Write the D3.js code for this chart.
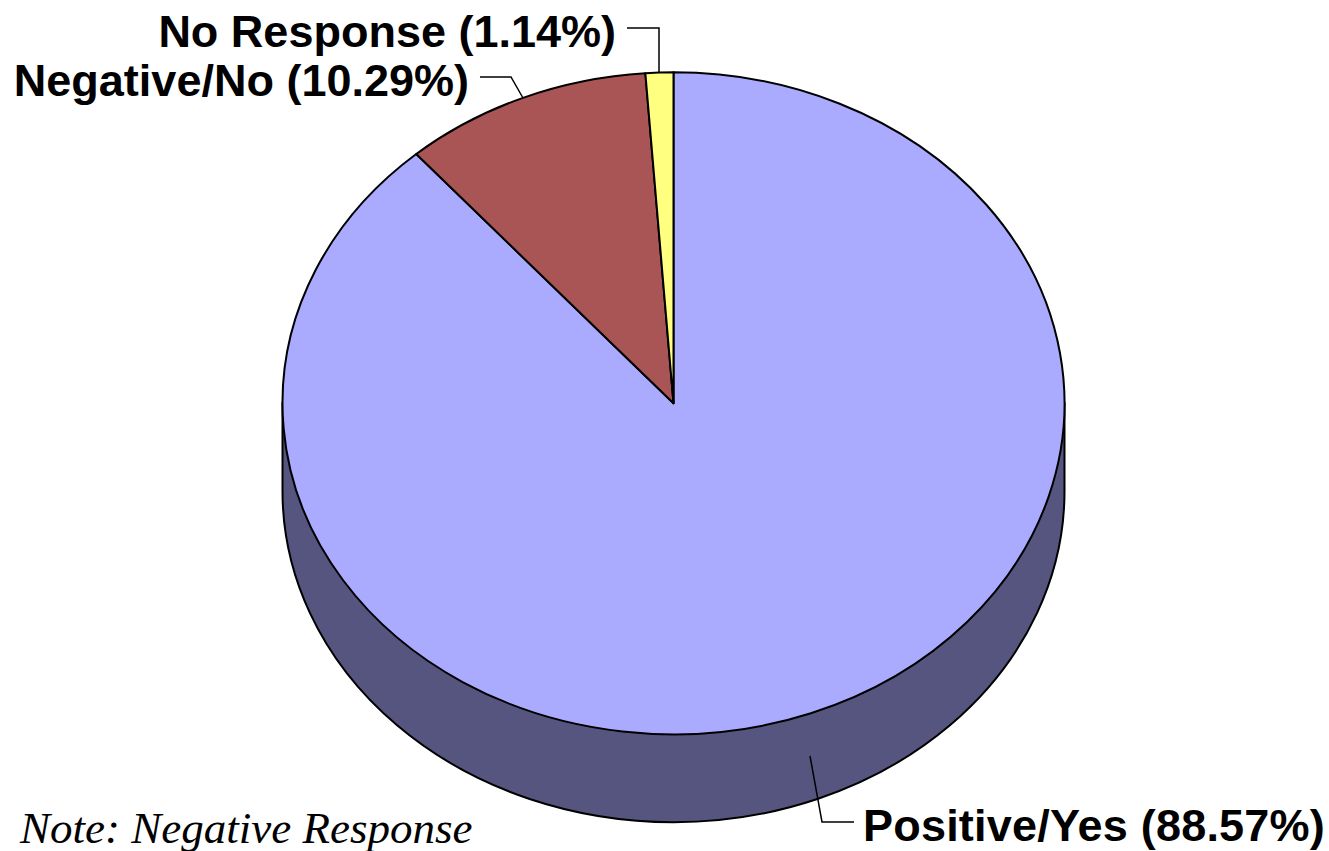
<!DOCTYPE html>
<html>
<head>
<meta charset="utf-8">
<script src="https://cdn.jsdelivr.net/npm/d3@7"></script>
<style>
  html, body { margin: 0; padding: 0; background: #fff; }
  svg { display: block; }
</style>
</head>
<body>
<div id="chart"></div>
<script>
// datos del grafico
var categories = ['Positive/Yes', 'Negative/No', 'No Response'];
var values = [88.57, 10.29, 1.14];
var colors = ['#aaaaff', '#aa5555', '#ffff80'];
var sideColor = '#55557f';
var note = 'Note: Negative Response';

var w = 1329, h = 851;
var cx = 673.5, cy = 403.3, rx = 391, ry = 331, depth = 88;

var svg = d3.select('#chart').append('svg')
  .attr('width', w)
  .attr('height', h)
  .attr('viewBox', [0, 0, w, h]);

// lateral del disco
svg.append('path')
  .attr('d', 'M' + (cx - rx) + ',' + cy + 'V' + (cy + depth) +
             'A' + rx + ',' + ry + ' 0 0 0 ' + (cx + rx) + ',' + (cy + depth) +
             'V' + cy + 'Z')
  .attr('fill', sideColor)
  .attr('stroke', '#000')
  .attr('stroke-width', 2);

// sectores: el arco se hace con radio 1 y se achata con scale
var pie = d3.pie().sort(null).value(function (d) { return d; });
var arc = d3.arc().innerRadius(0).outerRadius(1);

var slices = svg.append('g')
  .attr('transform', 'translate(' + cx + ',' + cy + ') scale(' + rx + ',' + ry + ')');

slices.selectAll('path')
  .data(pie(values))
  .enter()
  .append('path')
  .attr('d', arc)
  .attr('fill', function (d, i) { return colors[i]; })
  .attr('stroke', '#000')
  .attr('stroke-width', 2)
  .attr('stroke-linejoin', 'round')
  .attr('vector-effect', 'non-scaling-stroke');

// etiquetas con su linea guia
function pct(i) { return categories[i] + ' (' + values[i].toFixed(2) + '%)'; }
var labels = [
  { i: 2, x: 616, y: 47, anchor: 'end', spacing: 0, guide: [[627, 28], [659, 28], [659, 72]] },
  { i: 1, x: 469, y: 96, anchor: 'end', spacing: 0, guide: [[480, 77], [511, 77], [523, 98]] },
  { i: 0, x: 863, y: 841, anchor: 'start', spacing: 0.2, guide: [[810, 756], [822, 822], [854, 822]] }
];
var line = d3.line();

svg.selectAll('path.guide')
  .data(labels)
  .enter()
  .append('path')
  .attr('class', 'guide')
  .attr('d', function (d) { return line(d.guide); })
  .attr('fill', 'none')
  .attr('stroke', '#000')
  .attr('stroke-width', 1.5);

svg.selectAll('text.label')
  .data(labels)
  .enter()
  .append('text')
  .attr('class', 'label')
  .attr('x', function (d) { return d.x; })
  .attr('y', function (d) { return d.y; })
  .attr('text-anchor', function (d) { return d.anchor; })
  .style('font-family', '"Liberation Sans", Arial, sans-serif')
  .style('font-weight', 'bold')
  .style('font-size', '45px')
  .style('letter-spacing', function (d) { return d.spacing + 'px'; })
  .text(function (d) { return pct(d.i); });

// la nota queda cortada por abajo igual que en el original
svg.append('text')
  .attr('x', 20)
  .attr('y', 843)
  .style('font-family', '"Liberation Serif", "Times New Roman", serif')
  .style('font-style', 'italic')
  .style('font-size', '45px')
  .text(note);
</script>
</body>
</html>
